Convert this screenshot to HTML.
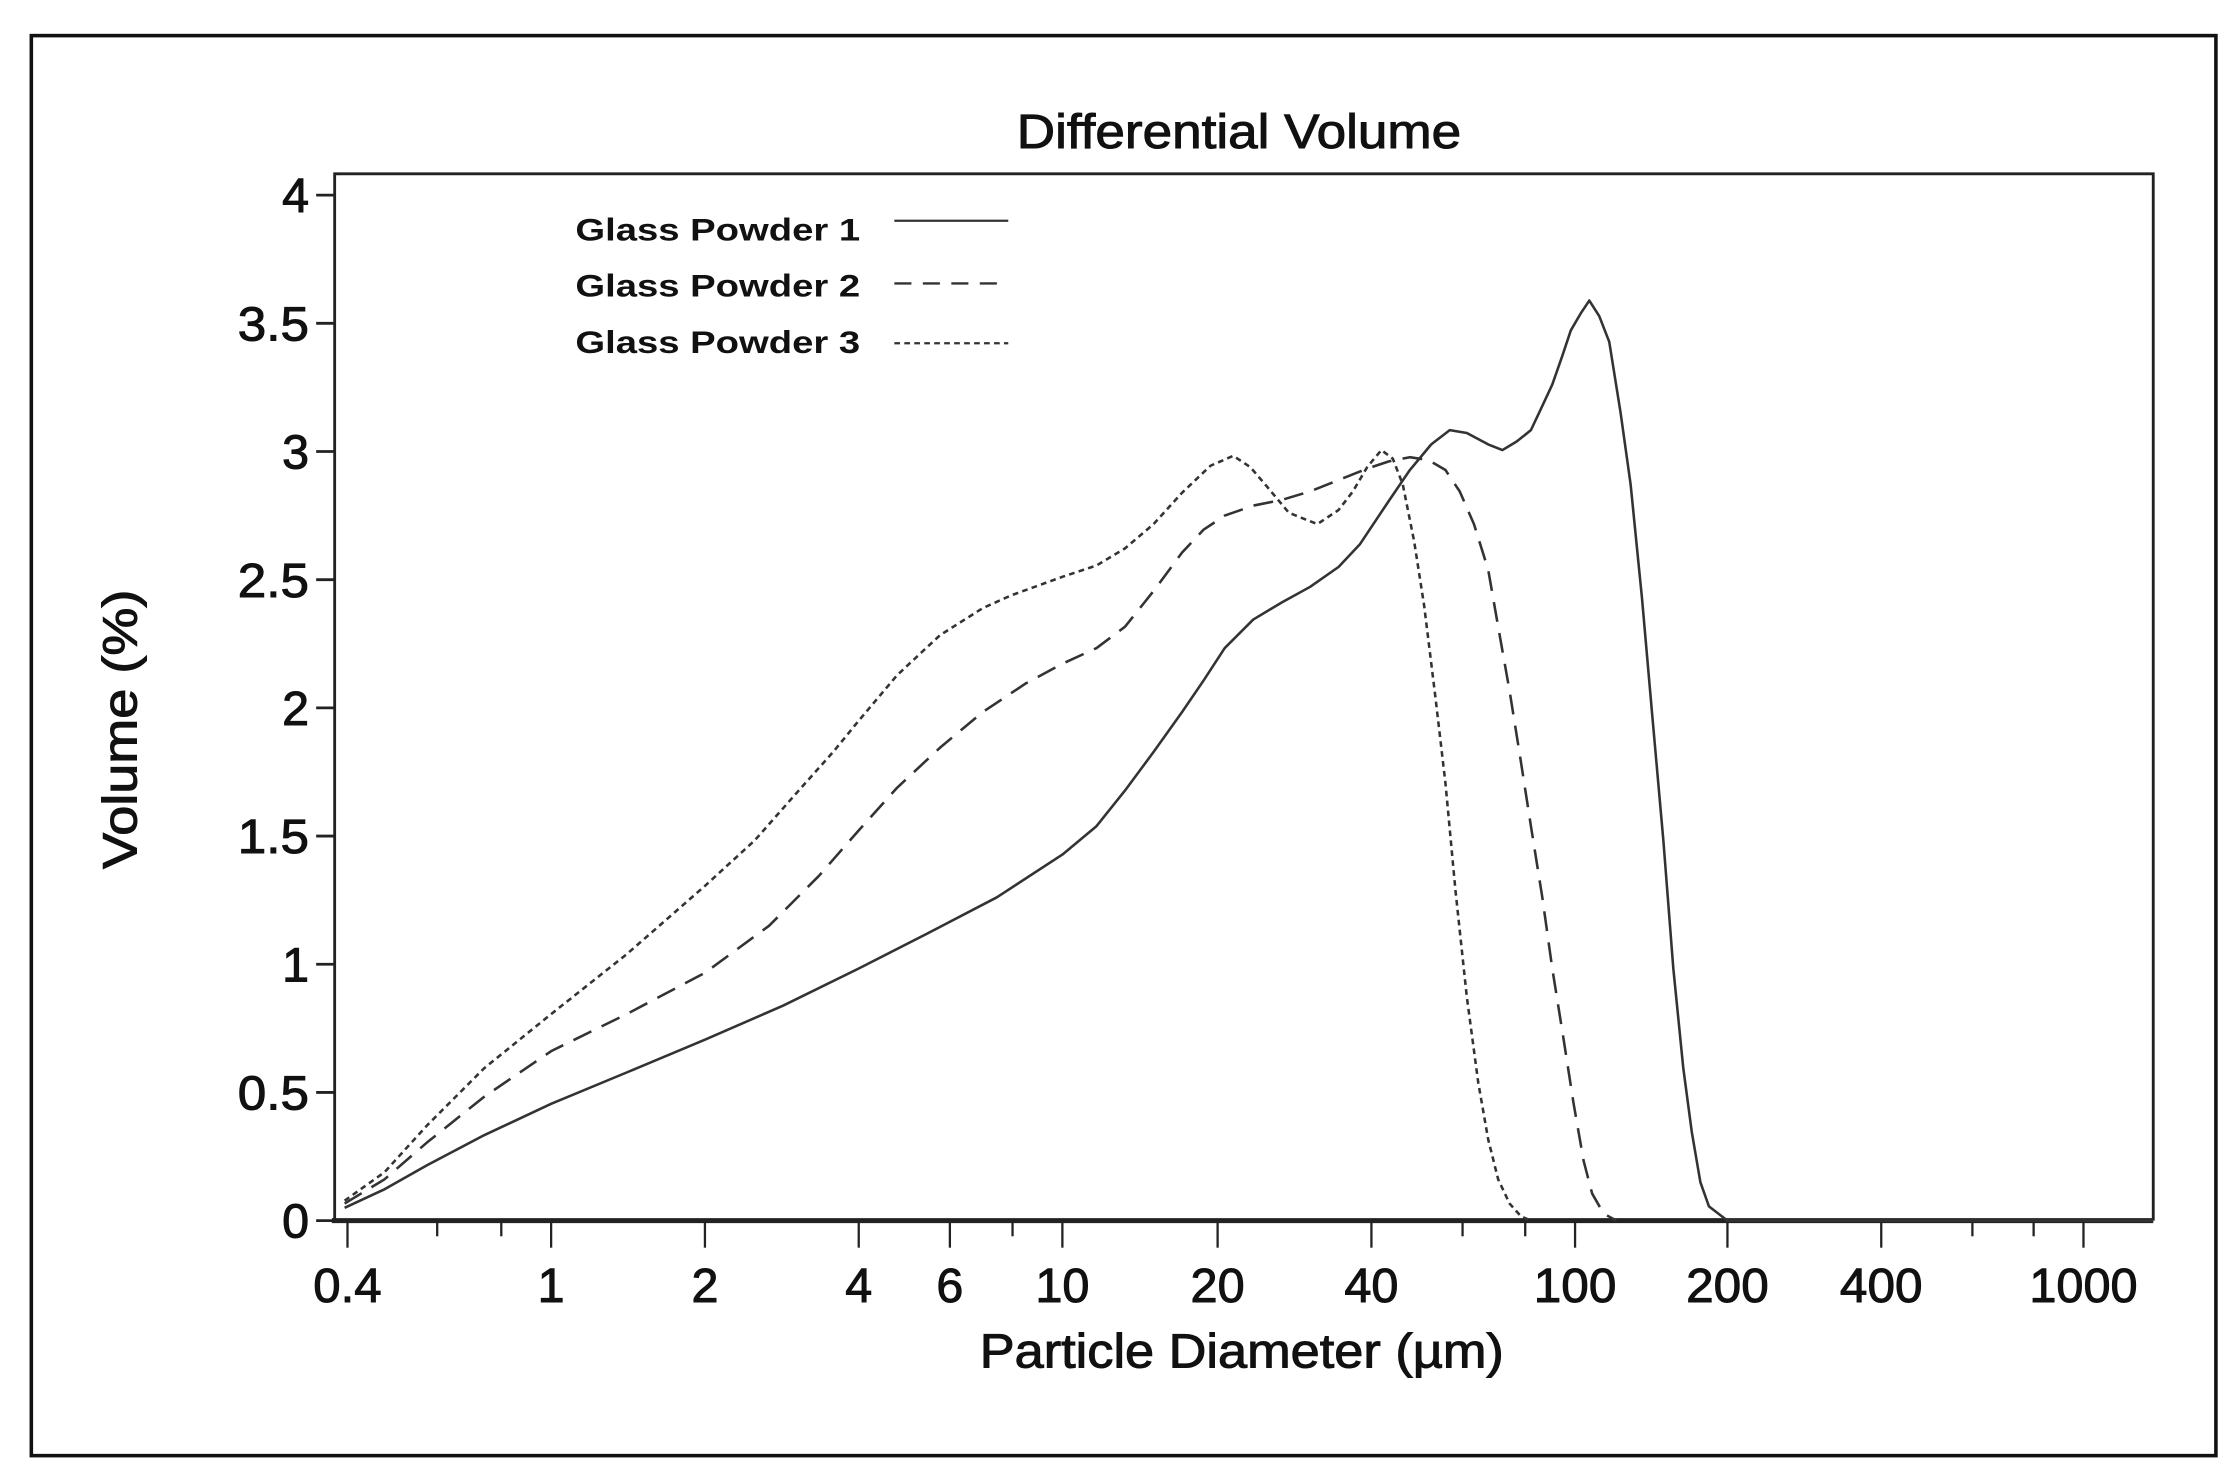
<!DOCTYPE html>
<html><head><meta charset="utf-8"><style>
html,body{margin:0;padding:0;background:#fff;}
svg{display:block;}
text{font-family:"Liberation Sans",Arial,sans-serif;fill:#111;}
.b{stroke:#111;stroke-width:0.7;}
</style></head><body>
<svg width="2233" height="1477" viewBox="0 0 1568 1037" preserveAspectRatio="none" xmlns="http://www.w3.org/2000/svg">
<rect x="0" y="0" width="1568" height="1037" fill="#fff"/>
<rect x="22" y="25" width="1534" height="997" fill="none" stroke="#111" stroke-width="2.5"/>
<text class="b" x="870" y="104" font-size="34" text-anchor="middle" textLength="312" lengthAdjust="spacingAndGlyphs">Differential Volume</text>
<path d="M235,857 V122 H1512 V857" fill="none" stroke="#222" stroke-width="2"/>
<line x1="233" y1="857" x2="1512" y2="857" stroke="#222" stroke-width="3.5"/>
<g stroke="#222" stroke-width="2">
<line x1="222" y1="857" x2="235" y2="857"/><line x1="222" y1="767" x2="235" y2="767"/>
<line x1="222" y1="677" x2="235" y2="677"/><line x1="222" y1="587" x2="235" y2="587"/>
<line x1="222" y1="497" x2="235" y2="497"/><line x1="222" y1="407" x2="235" y2="407"/>
<line x1="222" y1="317" x2="235" y2="317"/><line x1="222" y1="227" x2="235" y2="227"/>
<line x1="222" y1="137" x2="235" y2="137"/>
</g>
<g font-size="34" text-anchor="end" class="b">
<text x="217" y="869">0</text><text x="217" y="779" textLength="50" lengthAdjust="spacingAndGlyphs">0.5</text><text x="217" y="689">1</text>
<text x="217" y="599" textLength="50" lengthAdjust="spacingAndGlyphs">1.5</text><text x="217" y="509">2</text><text x="217" y="419" textLength="50" lengthAdjust="spacingAndGlyphs">2.5</text>
<text x="217" y="329">3</text><text x="217" y="239" textLength="50" lengthAdjust="spacingAndGlyphs">3.5</text><text x="217" y="149">4</text>
</g>
<g stroke="#222" stroke-width="1.6">
<line x1="244" y1="857" x2="244" y2="876"/><line x1="307" y1="857" x2="307" y2="868"/><line x1="352" y1="857" x2="352" y2="868"/>
<line x1="387" y1="857" x2="387" y2="876"/><line x1="495" y1="857" x2="495" y2="876"/><line x1="603" y1="857" x2="603" y2="876"/>
<line x1="667" y1="857" x2="667" y2="876"/><line x1="711" y1="857" x2="711" y2="868"/><line x1="746" y1="857" x2="746" y2="876"/>
<line x1="855" y1="857" x2="855" y2="876"/><line x1="963" y1="857" x2="963" y2="876"/><line x1="1027" y1="857" x2="1027" y2="868"/>
<line x1="1071" y1="857" x2="1071" y2="868"/><line x1="1106" y1="857" x2="1106" y2="876"/><line x1="1213" y1="857" x2="1213" y2="876"/>
<line x1="1321" y1="857" x2="1321" y2="876"/><line x1="1385" y1="857" x2="1385" y2="868"/><line x1="1428" y1="857" x2="1428" y2="868"/>
<line x1="1463" y1="857" x2="1463" y2="876"/>
</g>
<g font-size="34" text-anchor="middle" class="b">
<text x="244" y="914" textLength="48" lengthAdjust="spacingAndGlyphs">0.4</text><text x="387" y="914">1</text><text x="495" y="914">2</text>
<text x="603" y="914">4</text><text x="667" y="914">6</text><text x="746" y="914" textLength="38" lengthAdjust="spacingAndGlyphs">10</text>
<text x="855" y="914" textLength="38" lengthAdjust="spacingAndGlyphs">20</text><text x="963" y="914" textLength="38" lengthAdjust="spacingAndGlyphs">40</text><text x="1106" y="914" textLength="58" lengthAdjust="spacingAndGlyphs">100</text>
<text x="1213" y="914" textLength="58" lengthAdjust="spacingAndGlyphs">200</text><text x="1321" y="914" textLength="58" lengthAdjust="spacingAndGlyphs">400</text><text x="1463" y="914" textLength="76" lengthAdjust="spacingAndGlyphs">1000</text>
</g>
<text class="b" x="872" y="960" font-size="34" text-anchor="middle" textLength="368" lengthAdjust="spacingAndGlyphs">Particle Diameter (µm)</text>
<text class="b" transform="translate(96,512) rotate(-90)" font-size="34" text-anchor="middle" textLength="196" lengthAdjust="spacingAndGlyphs">Volume (%)</text>
<g font-size="22" font-weight="bold">
<text x="404" y="169" textLength="200" lengthAdjust="spacingAndGlyphs">Glass Powder  1</text>
<text x="404" y="208" textLength="200" lengthAdjust="spacingAndGlyphs">Glass Powder  2</text>
<text x="404" y="248" textLength="200" lengthAdjust="spacingAndGlyphs">Glass  Powder 3</text>
</g>
<line x1="628" y1="155" x2="708" y2="155" stroke="#333" stroke-width="1.6"/>
<line x1="628" y1="199" x2="708" y2="199" stroke="#333" stroke-width="1.6" stroke-dasharray="12,8"/>
<line x1="628" y1="241" x2="708" y2="241" stroke="#333" stroke-width="1.6" stroke-dasharray="4,3"/>
<g fill="none" stroke="#333" stroke-width="1.8" stroke-linejoin="round">
<polyline points="242,848 270,835 300,818 340,797 387,775 440,753 495,730 550,706 603,680 650,656 700,630 746,600 770,580 790,555 810,528 830,500 845,478 860,455 880,435 900,423 920,412 940,398 955,382 975,352 990,330 1005,312 1018,302 1030,304 1045,312 1055,316 1065,310 1075,302 1083,285 1090,270 1097,250 1103,232 1110,220 1116,211 1123,222 1130,240 1138,290 1145,340 1153,420 1160,500 1168,590 1175,680 1182,750 1188,795 1194,830 1200,847 1213,857 1512,857"/>
<polyline stroke-dasharray="14,8" points="242,845 270,828 300,802 340,770 387,738 440,712 495,683 540,650 575,615 603,583 630,553 660,525 690,500 720,480 746,466 770,455 790,440 810,415 830,388 845,372 860,362 880,355 900,351 920,345 940,337 960,329 975,324 990,321 1003,323 1015,330 1025,345 1035,368 1045,400 1052,440 1060,485 1068,535 1075,580 1083,630 1090,680 1098,730 1105,775 1112,815 1118,838 1126,852 1135,857"/>
<polyline stroke-dasharray="4,3" points="242,843 270,823 300,790 340,750 387,712 440,670 495,622 530,590 560,556 585,528 603,506 630,474 660,446 690,427 710,418 746,405 770,397 790,385 810,368 830,346 850,327 866,320 878,328 890,342 905,360 925,368 940,358 950,345 960,328 970,316 978,322 985,340 993,380 1000,425 1008,490 1015,550 1022,625 1030,700 1038,760 1045,800 1052,828 1060,845 1068,854 1075,857"/>
</g>
</svg>
</body></html>
